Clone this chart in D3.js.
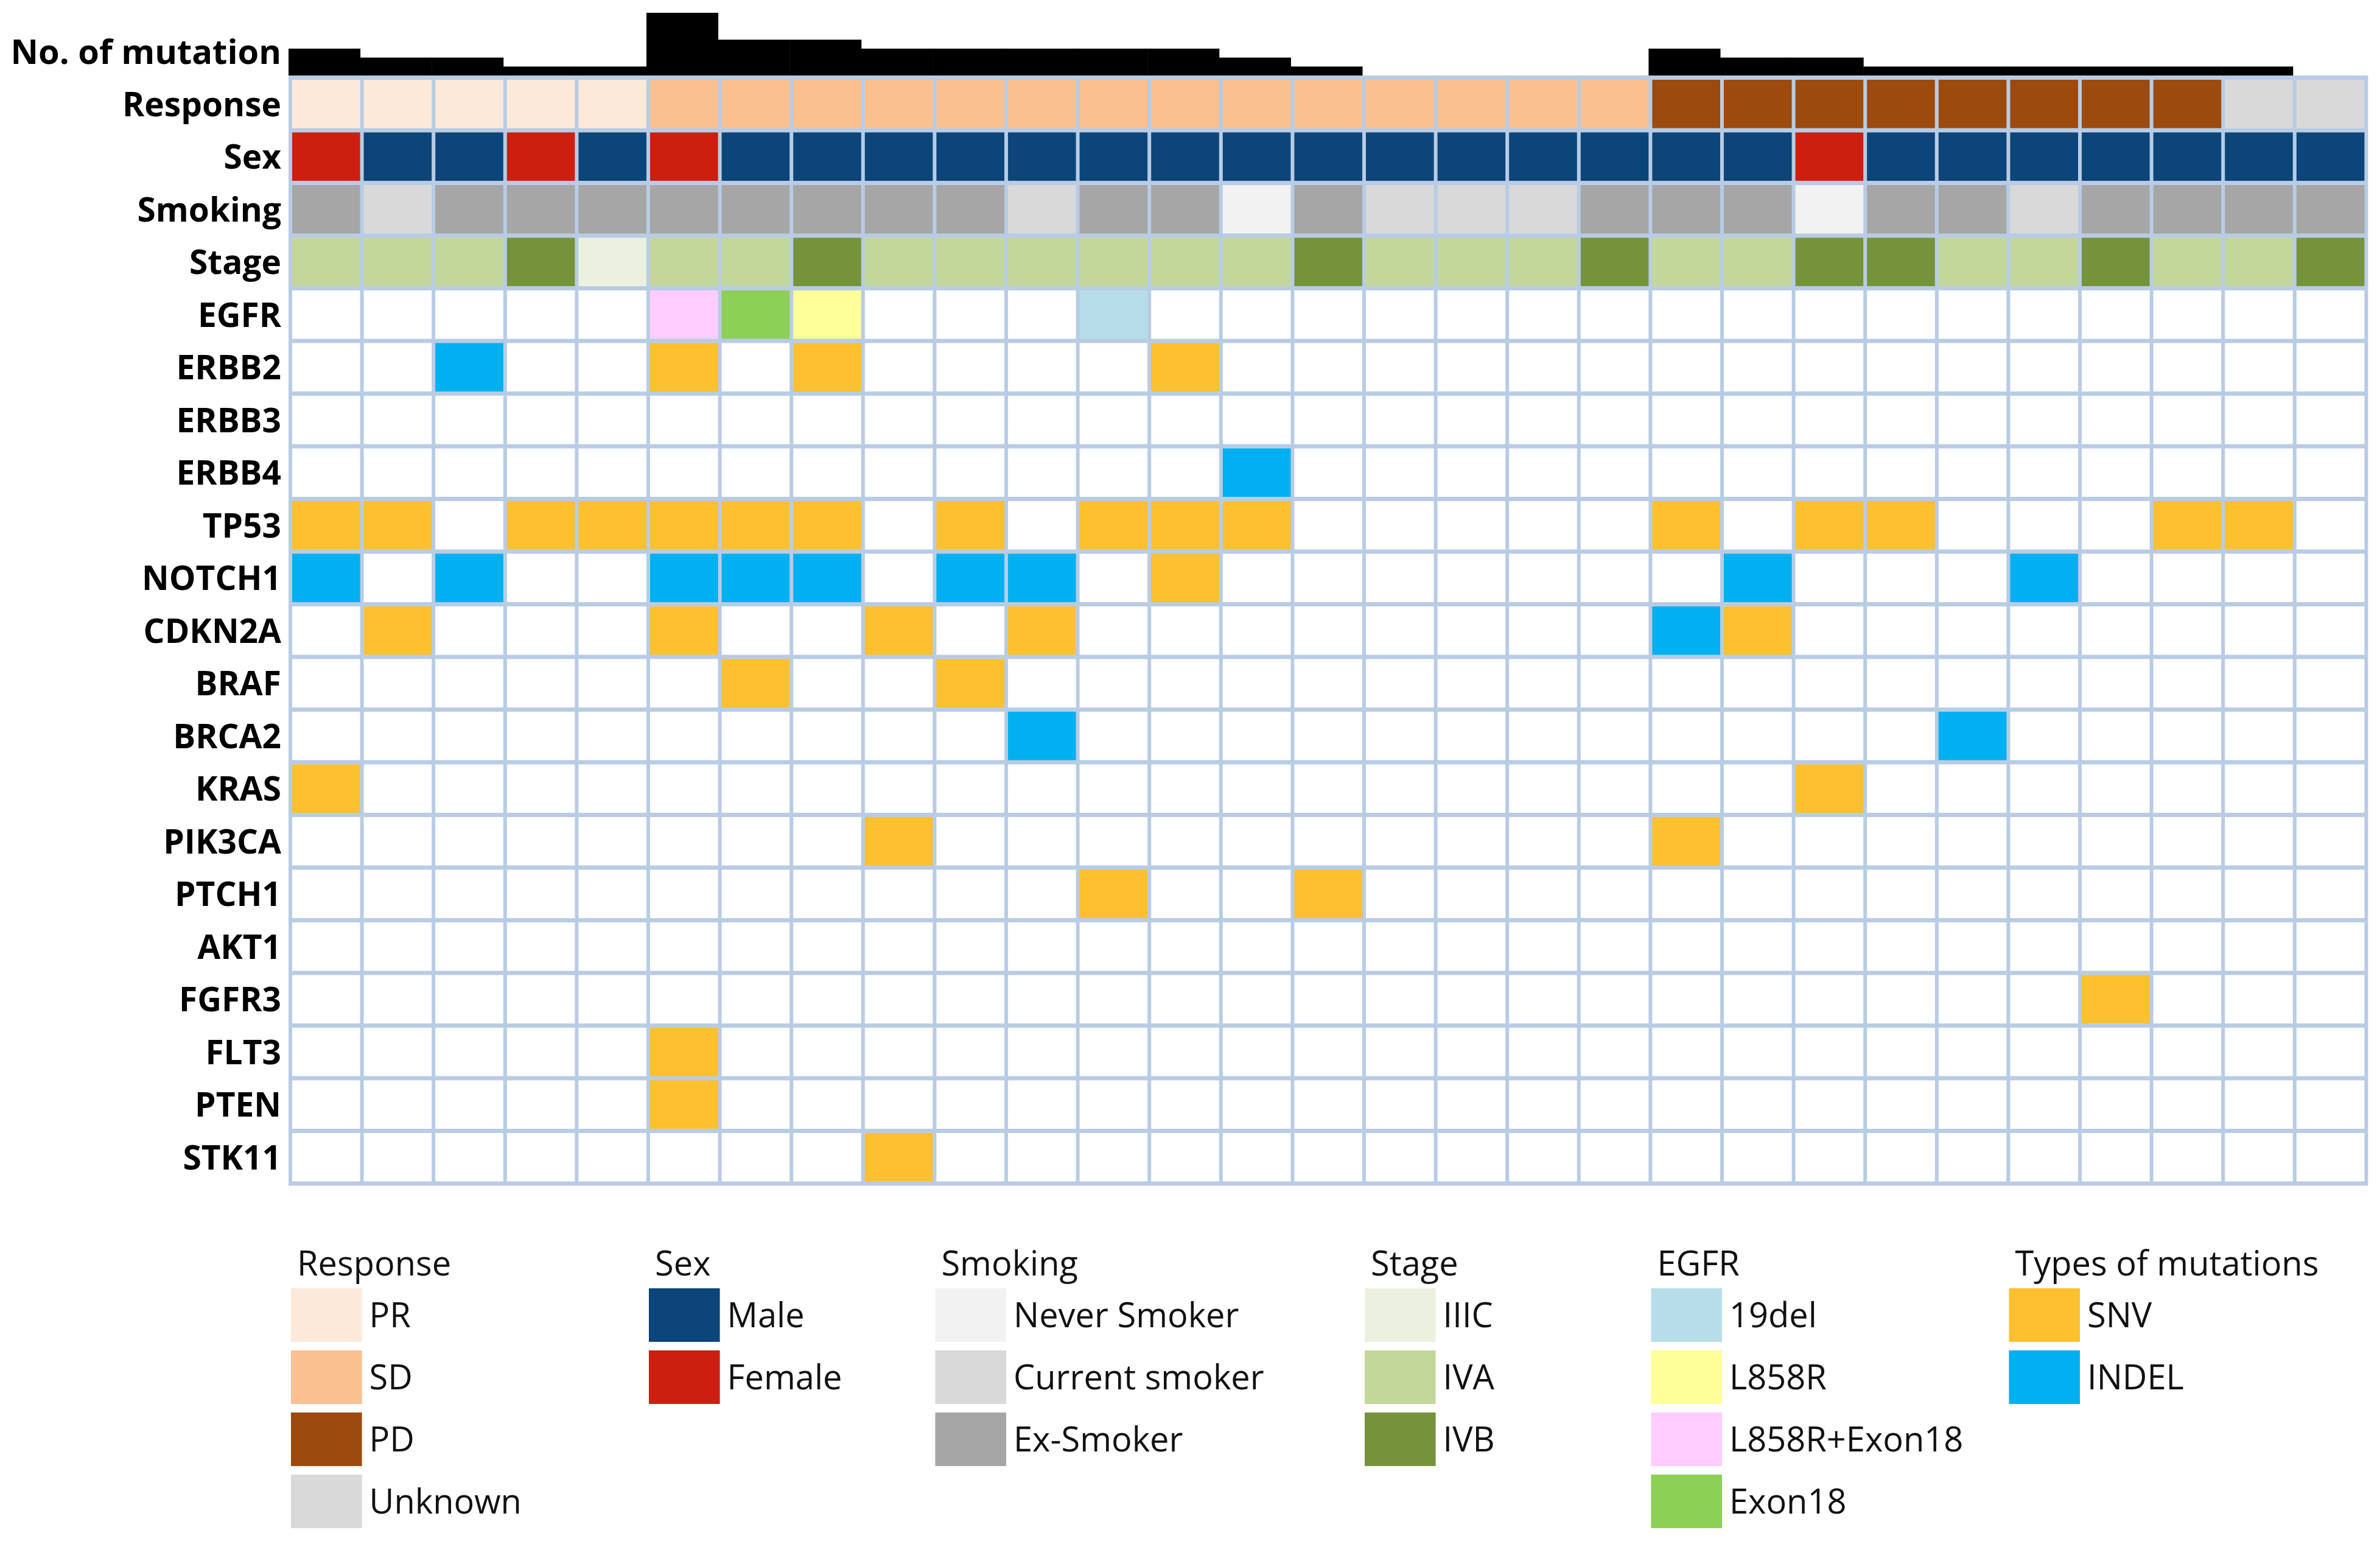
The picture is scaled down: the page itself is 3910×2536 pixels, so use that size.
<!DOCTYPE html>
<html>
<head>
<meta charset="utf-8">
<script src="https://cdn.jsdelivr.net/npm/d3@7"></script>
<style>
  html, body { margin: 0; padding: 0; background: #fff; }
  svg { display: block; font-family: "Open Sans", "Noto Sans", sans-serif; }
</style>
</head>
<body>
<div id="chart"></div>
<script>
// ---- data (29 patients, left to right) ----
const response = ['PR','PR','PR','PR','PR',
  'SD','SD','SD','SD','SD','SD','SD','SD','SD','SD','SD','SD','SD','SD',
  'PD','PD','PD','PD','PD','PD','PD','PD',
  'Unknown','Unknown'];
const sex = ['Female','Male','Male','Female','Male','Female','Male','Male','Male','Male',
  'Male','Male','Male','Male','Male','Male','Male','Male','Male','Male',
  'Male','Female','Male','Male','Male','Male','Male','Male','Male'];
const smoking = ['Ex-Smoker','Current smoker','Ex-Smoker','Ex-Smoker','Ex-Smoker','Ex-Smoker','Ex-Smoker','Ex-Smoker','Ex-Smoker','Ex-Smoker',
  'Current smoker','Ex-Smoker','Ex-Smoker','Never Smoker','Ex-Smoker','Current smoker','Current smoker','Current smoker','Ex-Smoker','Ex-Smoker',
  'Ex-Smoker','Never Smoker','Ex-Smoker','Ex-Smoker','Current smoker','Ex-Smoker','Ex-Smoker','Ex-Smoker','Ex-Smoker'];
const stage = ['IVA','IVA','IVA','IVB','IIIC','IVA','IVA','IVB','IVA','IVA',
  'IVA','IVA','IVA','IVA','IVB','IVA','IVA','IVA','IVB','IVA',
  'IVA','IVB','IVB','IVA','IVA','IVB','IVA','IVA','IVB'];
const egfr = [null,null,null,null,null,'L858R+Exon18','Exon18','L858R',null,null,
  null,'19del',null,null,null,null,null,null,null,null,
  null,null,null,null,null,null,null,null,null];

const genes = ['ERBB2','ERBB3','ERBB4','TP53','NOTCH1','CDKN2A','BRAF','BRCA2','KRAS',
  'PIK3CA','PTCH1','AKT1','FGFR3','FLT3','PTEN','STK11'];

// [gene, patient index, type]
const mutations = [
  ['ERBB2',2,'INDEL'],['ERBB2',5,'SNV'],['ERBB2',7,'SNV'],['ERBB2',12,'SNV'],
  ['ERBB4',13,'INDEL'],
  ['TP53',0,'SNV'],['TP53',1,'SNV'],['TP53',3,'SNV'],['TP53',4,'SNV'],['TP53',5,'SNV'],
  ['TP53',6,'SNV'],['TP53',7,'SNV'],['TP53',9,'SNV'],['TP53',11,'SNV'],['TP53',12,'SNV'],
  ['TP53',13,'SNV'],['TP53',19,'SNV'],['TP53',21,'SNV'],['TP53',22,'SNV'],['TP53',26,'SNV'],
  ['TP53',27,'SNV'],
  ['NOTCH1',0,'INDEL'],['NOTCH1',2,'INDEL'],['NOTCH1',5,'INDEL'],['NOTCH1',6,'INDEL'],
  ['NOTCH1',7,'INDEL'],['NOTCH1',9,'INDEL'],['NOTCH1',10,'INDEL'],['NOTCH1',12,'SNV'],
  ['NOTCH1',20,'INDEL'],['NOTCH1',24,'INDEL'],
  ['CDKN2A',1,'SNV'],['CDKN2A',5,'SNV'],['CDKN2A',8,'SNV'],['CDKN2A',10,'SNV'],
  ['CDKN2A',19,'INDEL'],['CDKN2A',20,'SNV'],
  ['BRAF',6,'SNV'],['BRAF',9,'SNV'],
  ['BRCA2',10,'INDEL'],['BRCA2',23,'INDEL'],
  ['KRAS',0,'SNV'],['KRAS',21,'SNV'],
  ['PIK3CA',8,'SNV'],['PIK3CA',19,'SNV'],
  ['PTCH1',11,'SNV'],['PTCH1',14,'SNV'],
  ['FGFR3',25,'SNV'],
  ['FLT3',5,'SNV'],
  ['PTEN',5,'SNV'],
  ['STK11',8,'SNV']
];

// legend categories
const responseCats = ['PR','SD','PD','Unknown'];
const responseColors = ['#fde9d9','#fac090','#9d4a0f','#d9d9d9'];
const sexCats = ['Male','Female'];
const sexColors = ['#0b457a','#cc1f10'];
const smokingCats = ['Never Smoker','Current smoker','Ex-Smoker'];
const smokingColors = ['#f2f2f2','#d9d9d9','#a6a6a6'];
const stageCats = ['IIIC','IVA','IVB'];
const stageColors = ['#ebf1de','#c4d79b','#76933c'];
const egfrCats = ['19del','L858R','L858R+Exon18','Exon18'];
const egfrColors = ['#b7dee8','#ffff99','#ffccff','#8dd056'];
const mutTypes = ['SNV','INDEL'];
const mutColors = ['#fdc02f','#00b0f0'];

// ---- layout ----
const W = 3910, H = 2536;
const gridLeft = 474, gridTop = 124;
const colW = 117.6, rowH = 86.5;
const vLine = 6, hLine = 7;
const lineColor = '#b8cce4';

const samples = d3.range(response.length);
const rows = ['Response','Sex','Smoking','Stage','EGFR'].concat(genes);

const x = d3.scaleBand().domain(samples).range([gridLeft, gridLeft + colW * samples.length]);
const y = d3.scaleBand().domain(rows).range([gridTop, gridTop + rowH * rows.length]);

const respColor = d3.scaleOrdinal(responseCats, responseColors);
const sexColor = d3.scaleOrdinal(sexCats, sexColors);
const smokeColor = d3.scaleOrdinal(smokingCats, smokingColors);
const stageColor = d3.scaleOrdinal(stageCats, stageColors);
const egfrColor = d3.scaleOrdinal(egfrCats, egfrColors);
const mutColor = d3.scaleOrdinal(mutTypes, mutColors);

// mutations per patient (EGFR counted too)
const counts = samples.map(i => mutations.filter(m => m[1] === i).length + (egfr[i] ? 1 : 0));
const yBar = d3.scaleLinear().domain([0, d3.max(counts)]).range([gridTop, 21]);

const svg = d3.select('#chart').append('svg')
  .attr('width', W).attr('height', H)
  .attr('viewBox', `0 0 ${W} ${H}`);

svg.append('rect').attr('width', W).attr('height', H).attr('fill', '#fff');

// top mutation-count bars
svg.append('g').selectAll('rect')
  .data(samples)
  .join('rect')
  .attr('x', d => x(d))
  .attr('y', d => yBar(counts[d]))
  .attr('width', x.bandwidth() + 0.5)
  .attr('height', d => gridTop - yBar(counts[d]))
  .attr('fill', '#000');

// grid background = line colour
svg.append('rect')
  .attr('x', gridLeft).attr('y', gridTop)
  .attr('width', colW * samples.length + vLine)
  .attr('height', rowH * rows.length + hLine)
  .attr('fill', lineColor);

function cellFill(row, i) {
  if (row === 'Response') return respColor(response[i]);
  if (row === 'Sex') return sexColor(sex[i]);
  if (row === 'Smoking') return smokeColor(smoking[i]);
  if (row === 'Stage') return stageColor(stage[i]);
  if (row === 'EGFR') return egfr[i] ? egfrColor(egfr[i]) : '#fff';
  const m = mutations.find(d => d[0] === row && d[1] === i);
  return m ? mutColor(m[2]) : '#fff';
}

const cells = [];
rows.forEach(r => samples.forEach(i => cells.push({ row: r, i: i })));

svg.append('g').selectAll('rect')
  .data(cells)
  .join('rect')
  .attr('x', d => x(d.i) + vLine)
  .attr('y', d => y(d.row) + hLine)
  .attr('width', x.bandwidth() - vLine)
  .attr('height', y.bandwidth() - hLine)
  .attr('fill', d => cellFill(d.row, d.i));

// row labels
svg.append('g').selectAll('text')
  .data(rows)
  .join('text')
  .attr('x', 462)
  .attr('y', d => y(d) + hLine / 2 + y.bandwidth() / 2 + 20)
  .attr('text-anchor', 'end')
  .style('font-size', '55px')
  .style('font-weight', 700)
  .style('fill', '#000')
  .text(d => d);

svg.append('text')
  .attr('x', 462).attr('y', 105)
  .attr('text-anchor', 'end')
  .style('font-size', '56px')
  .style('font-weight', 700)
  .text('No. of mutation');

// ---- legend ----
const legends = [
  { title: 'Response', col: 0, cats: responseCats, color: respColor },
  { title: 'Sex', col: 5, cats: sexCats, color: sexColor },
  { title: 'Smoking', col: 9, cats: smokingCats, color: smokeColor },
  { title: 'Stage', col: 15, cats: stageCats, color: stageColor },
  { title: 'EGFR', col: 19, cats: egfrCats, color: egfrColor },
  { title: 'Types of mutations', col: 24, cats: mutTypes, color: mutColor }
];
const legTop = 2116, legStep = 102, swH = 88;

legends.forEach(L => {
  const gx = x(L.col) + 4;
  const g = svg.append('g').attr('transform', `translate(${gx},0)`);
  g.append('text')
    .attr('x', 10).attr('y', 2095)
    .style('font-size', '56px')
    .style('fill', '#111')
    .text(L.title);
  const item = g.selectAll('g.item')
    .data(L.cats)
    .join('g')
    .attr('class', 'item')
    .attr('transform', (d, k) => `translate(0,${legTop + k * legStep})`);
  item.append('rect')
    .attr('width', colW - 1).attr('height', swH)
    .attr('fill', d => L.color(d));
  item.append('text')
    .attr('x', colW + 11).attr('y', swH / 2 + 20)
    .style('font-size', '56px')
    .style('fill', '#111')
    .text(d => d);
});
</script>
</body>
</html>
